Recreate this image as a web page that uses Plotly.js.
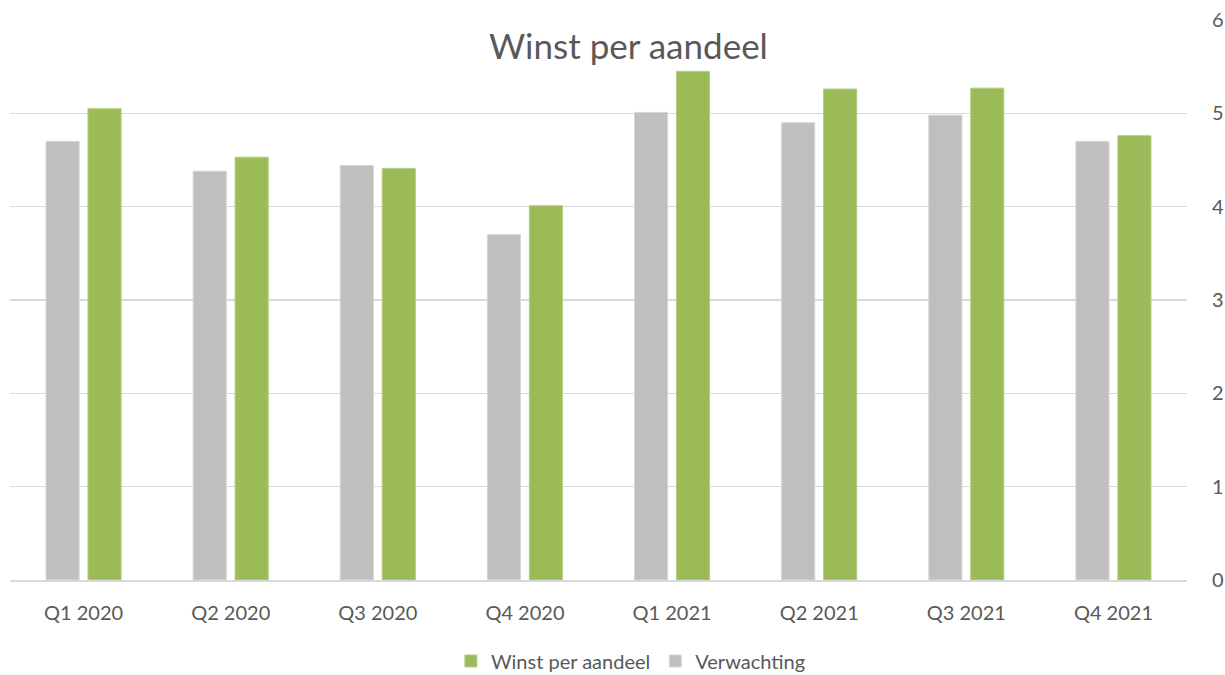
<!DOCTYPE html>
<html>
<head>
<meta charset="utf-8">
<script src="https://cdn.plot.ly/plotly-3.0.1.min.js"></script>
<style>html,body{margin:0;padding:0;background:#fff;}#chart{width:1225px;height:675px;}</style>
</head>
<body>
<div id="chart"></div>
<script>
const categories = ["Q1 2020","Q2 2020","Q3 2020","Q4 2020","Q1 2021","Q2 2021","Q3 2021","Q4 2021"];
const verwachting = [4.70, 4.38, 4.44, 3.70, 5.01, 4.90, 4.98, 4.70];
const winst = [5.05, 4.53, 4.41, 4.01, 5.45, 5.26, 5.27, 4.76];
const yTicks = [0,1,2,3,4,5,6];

const txt = "#595959";
const traces = [
  {type:"bar", name:"Verwachting", x:categories, y:verwachting,
   marker:{color:"#BFBFBF", line:{color:"#D6D6D6", width:1}}, hoverinfo:"x+y"},
  {type:"bar", name:"Winst per aandeel", x:categories, y:winst,
   marker:{color:"#9BBB59", line:{color:"#B4CE82", width:1}}, hoverinfo:"x+y"}
];
const layout = {
  width:1225, height:675,
  margin:{l:10, r:38, t:20, b:95},
  paper_bgcolor:"#fff", plot_bgcolor:"#fff",
  font:{family:"Lato, 'Open Sans', sans-serif", color:txt, size:20},
  title:{text:"Winst per aandeel", font:{size:35, color:txt, family:"Lato, 'Open Sans', sans-serif"},
         x:0.513, xanchor:"center", xref:"container", y:1-47/675, yanchor:"middle", yref:"container"},
  barmode:"group", bargap:0.43, bargroupgap:0.21,
  xaxis:{type:"category", showgrid:false, showline:true, linecolor:"#D9D9D9", linewidth:1.5,
         ticks:"outside", ticklen:14, tickcolor:"rgba(0,0,0,0)", tickfont:{size:20, color:txt}, zeroline:false},
  yaxis:{side:"right", range:[0,6], tickvals:yTicks, showgrid:true, gridcolor:"#D9D9D9", gridwidth:1.5,
         zeroline:false, showline:false, ticks:"outside", ticklen:20, tickcolor:"rgba(0,0,0,0)",
         tickfont:{size:20, color:txt}},
  showlegend:true,
  legend:{orientation:"h", traceorder:"reversed", xref:"container", yref:"container",
          x:0.515, xanchor:"center", y:1-661/675, yanchor:"middle",
          font:{size:20, color:txt}, itemwidth:30, bgcolor:"rgba(0,0,0,0)"}
};
Plotly.newPlot("chart", traces, layout, {displayModeBar:false, staticPlot:true});
</script>
</body>
</html>
